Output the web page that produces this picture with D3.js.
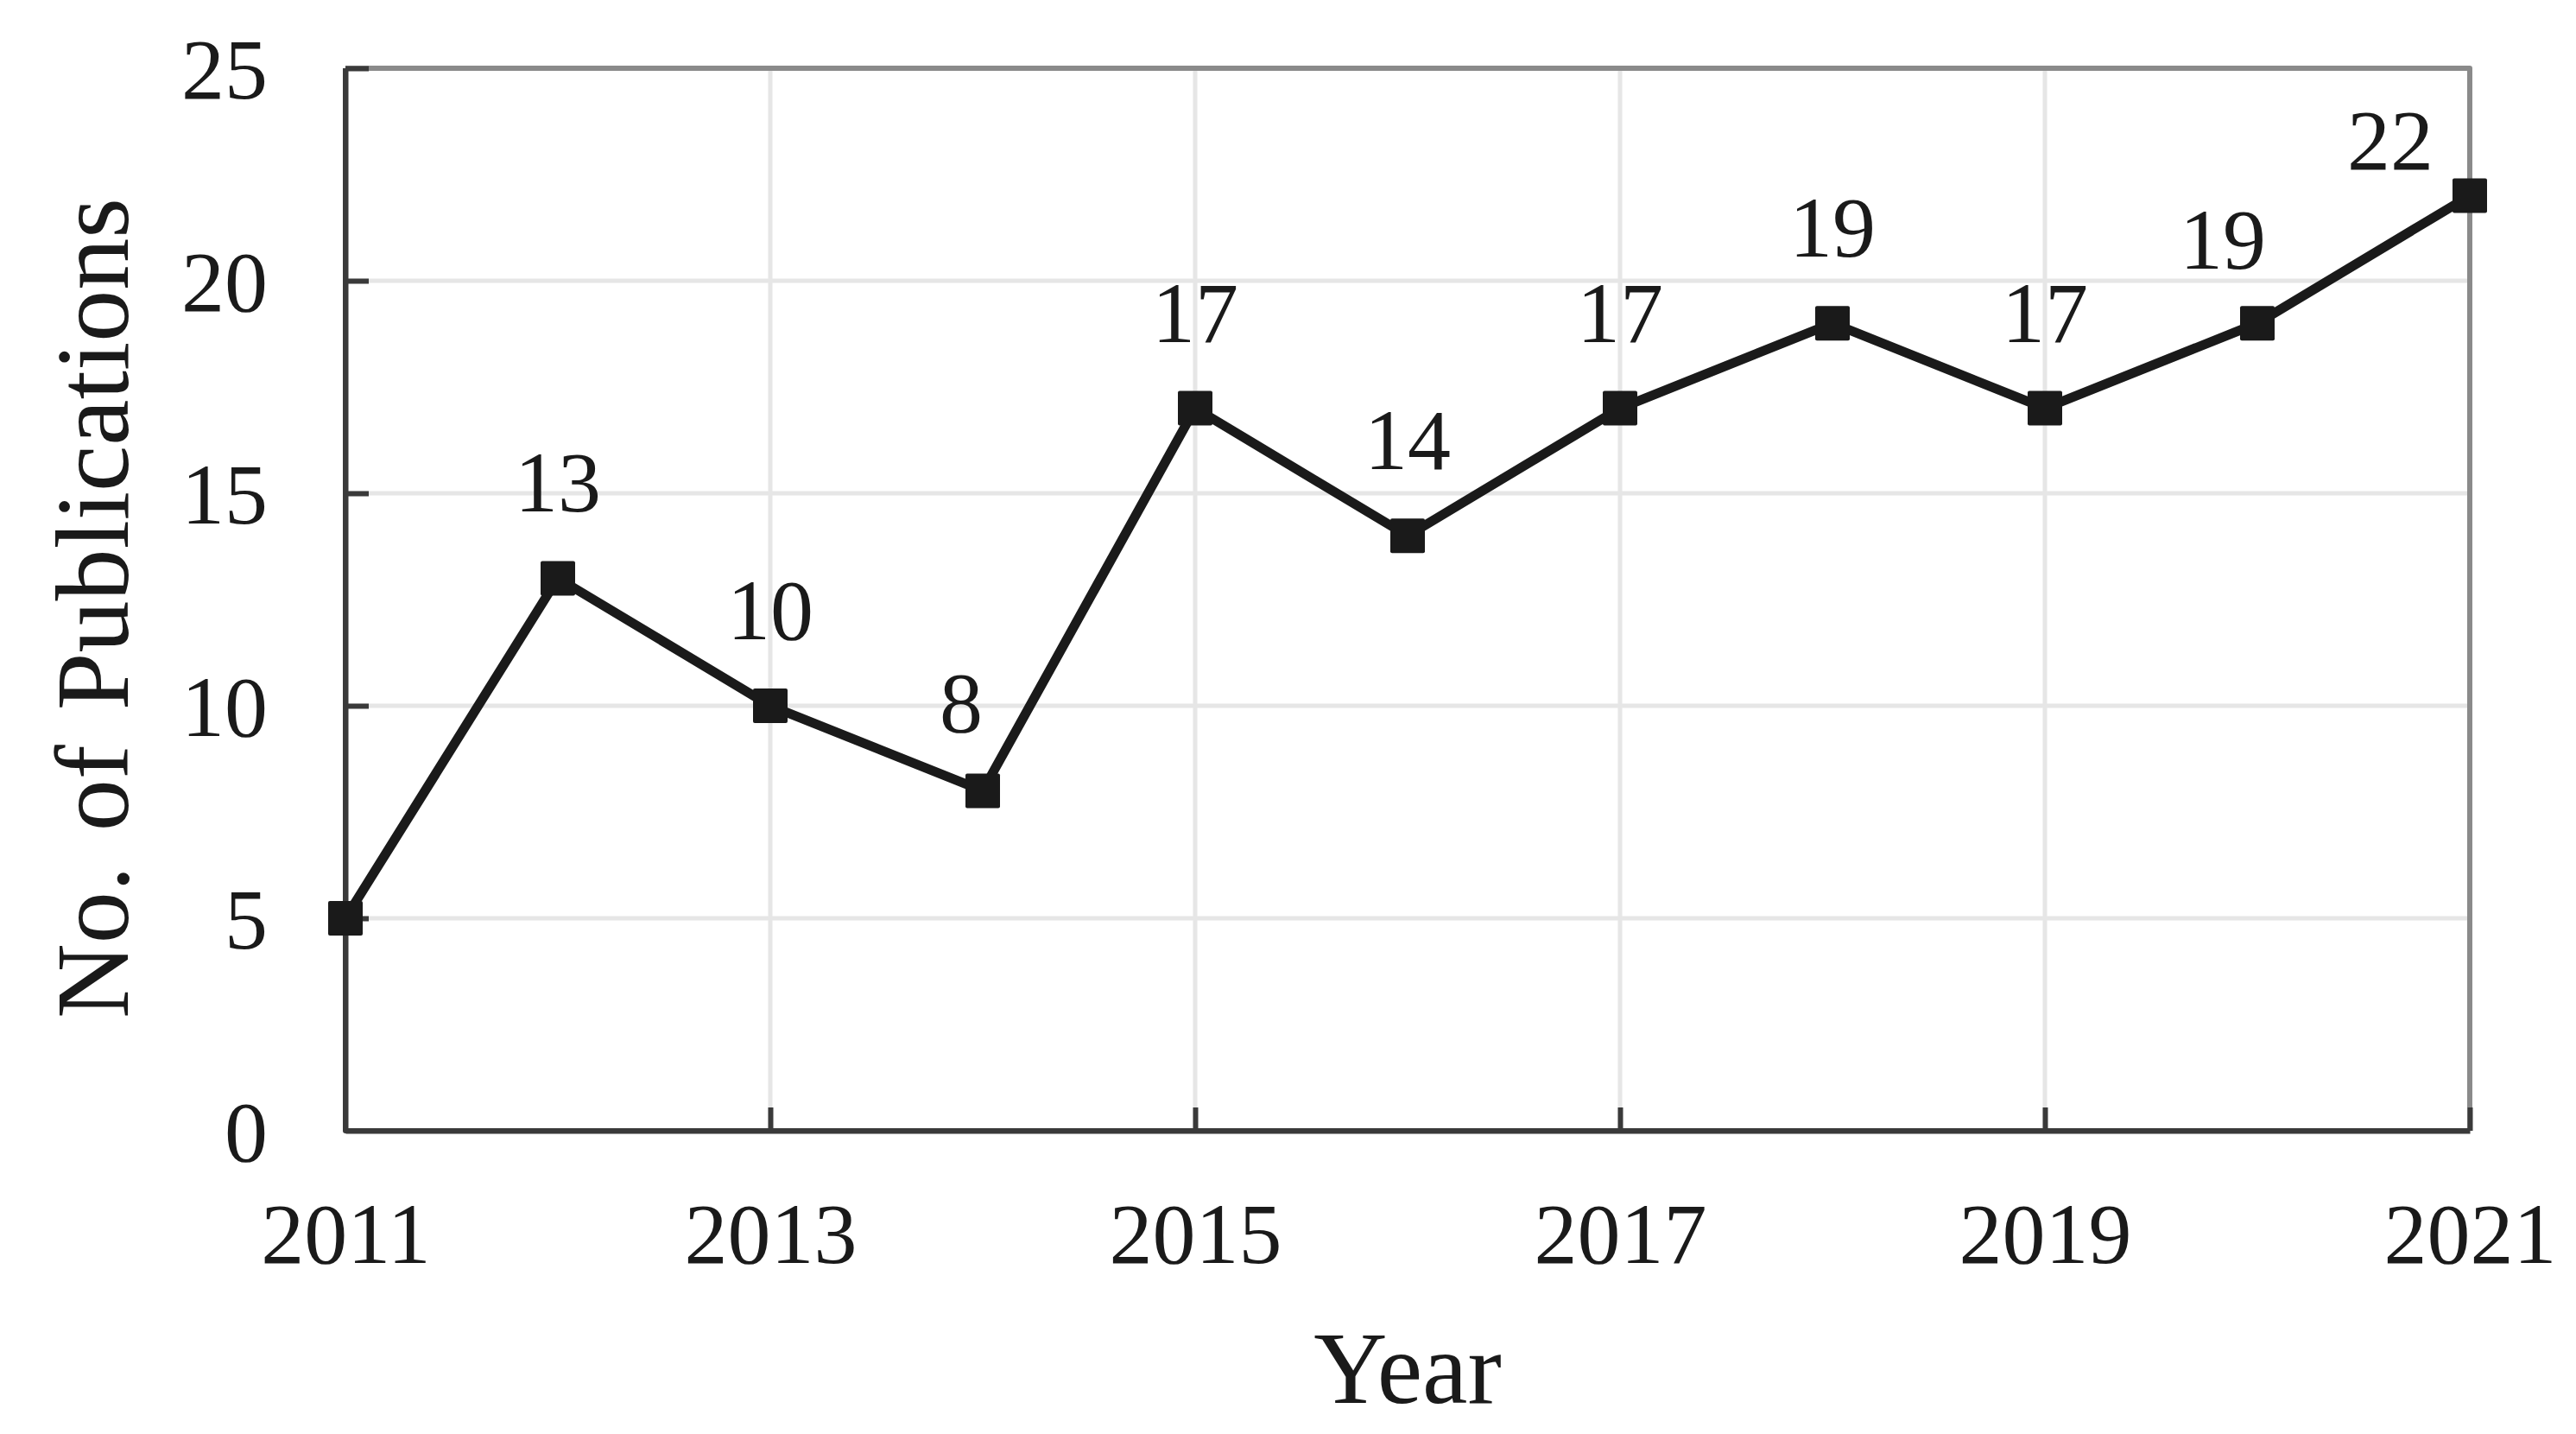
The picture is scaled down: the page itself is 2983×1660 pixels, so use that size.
<!DOCTYPE html>
<html>
<head>
<meta charset="utf-8">
<script src="https://cdn.jsdelivr.net/npm/d3@7"></script>
<style>
  html, body { margin: 0; padding: 0; background: #fff; }
  svg { display: block; }
  text { font-family: "Liberation Serif", "Times New Roman", serif; fill: #1a1a1a; }
</style>
</head>
<body>
<svg id="chart" width="2983" height="1660"></svg>
<script>
// ---- data ----
const years = [2011, 2012, 2013, 2014, 2015, 2016, 2017, 2018, 2019, 2020, 2021];
const publications = [5, 13, 10, 8, 17, 14, 17, 19, 17, 19, 22];
const showValueLabel = [false, true, true, true, true, true, true, true, true, true, true];
const xTickValues = [2011, 2013, 2015, 2017, 2019, 2021];
const yTickValues = [0, 5, 10, 15, 20, 25];
const xTitle = "Year";
const yTitle = "No. of Publications";

// ---- layout (label nudges in px, per point) ----
const labelDx = [0, 0, 0, -25, 0, 0, 0, 0, 0, -40, -92];
const labelDy = [-77, -77, -77, -68, -77, -77, -77, -77, -77, -63, -31];

const W = 2983, H = 1660;
const m = { left: 400, right: W - 2860, top: 79, bottom: H - 1309 };
const svg = d3.select("#chart");

const x = d3.scaleLinear().domain([2011, 2021]).range([m.left, W - m.right]);
const y = d3.scaleLinear().domain([0, 25]).range([H - m.bottom, m.top]);

const gridColor = "#e6e6e6";
const axisDark = "#3a3a3a";
const axisLight = "#8a8a8a";

// gridlines
svg.append("g").selectAll("line.hg")
  .data(yTickValues.filter(v => v > 0 && v < 25))
  .join("line")
  .attr("x1", x(2011)).attr("x2", x(2021))
  .attr("y1", d => y(d)).attr("y2", d => y(d))
  .attr("stroke", gridColor).attr("stroke-width", 5);
svg.append("g").selectAll("line.vg")
  .data(xTickValues.filter(v => v > 2011 && v < 2021))
  .join("line")
  .attr("x1", d => x(d)).attr("x2", d => x(d))
  .attr("y1", y(0)).attr("y2", y(25))
  .attr("stroke", gridColor).attr("stroke-width", 5);

// top and right frame (lighter)
svg.append("path")
  .attr("d", `M${x(2011)},${y(25)}H${x(2021)}V${y(0)}`)
  .attr("fill", "none").attr("stroke", axisLight).attr("stroke-width", 6)
  .attr("stroke-linejoin", "round");

// axes
const tickLen = 27;
const xAxis = d3.axisBottom(x).tickValues(xTickValues).tickFormat(d3.format("d"))
  .tickSizeInner(-tickLen).tickSizeOuter(0).tickPadding(0);
const yAxis = d3.axisLeft(y).tickValues(yTickValues).tickFormat(d3.format("d"))
  .tickSizeInner(-tickLen).tickSizeOuter(0).tickPadding(0);

const gx = svg.append("g").attr("transform", `translate(0,${y(0)})`).call(xAxis);
const gy = svg.append("g").attr("transform", `translate(${x(2011)},0)`).call(yAxis);

[gx, gy].forEach(g => {
  g.select(".domain").attr("stroke", axisDark).attr("stroke-width", 6);
  g.selectAll(".tick line").attr("stroke", axisDark).attr("stroke-width", 6);
  g.selectAll(".tick text")
    .attr("font-family", "Liberation Serif, serif")
    .attr("font-size", 100).attr("fill", "#1a1a1a");
});
gx.selectAll(".tick text").attr("y", 1462 - y(0)).attr("dy", 0);
gy.selectAll(".tick text").attr("x", -90).attr("dy", "0.34em").attr("text-anchor", "end");
gy.selectAll(".tick").filter(d => d === 0).select("line").remove();
gx.selectAll(".tick").filter(d => d === 2011).select("line").remove();

// corner joins for dark axes
svg.append("path")
  .attr("d", `M${x(2011)},${y(25)}V${y(0)}H${x(2021)}`)
  .attr("fill", "none").attr("stroke", axisDark).attr("stroke-width", 6)
  .attr("stroke-linejoin", "round");

// data line
const pts = years.map((yr, i) => ({ year: yr, value: publications[i], i }));
const line = d3.line().x(d => x(d.year)).y(d => y(d.value));
svg.append("path").datum(pts)
  .attr("d", line)
  .attr("fill", "none").attr("stroke", "#1a1a1a").attr("stroke-width", 11)
  .attr("stroke-linejoin", "miter");

// markers
const ms = 40;
svg.append("g").selectAll("rect").data(pts).join("rect")
  .attr("x", d => x(d.year) - ms / 2).attr("y", d => y(d.value) - ms / 2)
  .attr("width", ms).attr("height", ms).attr("rx", 2)
  .attr("fill", "#1a1a1a");

// value labels
svg.append("g").selectAll("text").data(pts.filter(d => showValueLabel[d.i])).join("text")
  .attr("x", d => x(d.year) + labelDx[d.i])
  .attr("y", d => y(d.value) + labelDy[d.i])
  .attr("text-anchor", "middle").attr("font-size", 100)
  .text(d => d.value);

// axis titles
svg.append("text")
  .attr("x", (x(2011) + x(2021)) / 2).attr("y", 1624)
  .attr("text-anchor", "middle").attr("font-size", 118)
  .text(xTitle);
svg.append("text")
  .attr("transform", `translate(148,${704}) rotate(-90)`)
  .attr("text-anchor", "middle").attr("font-size", 120)
  .attr("word-spacing", 10)
  .text(yTitle);
</script>
</body>
</html>
